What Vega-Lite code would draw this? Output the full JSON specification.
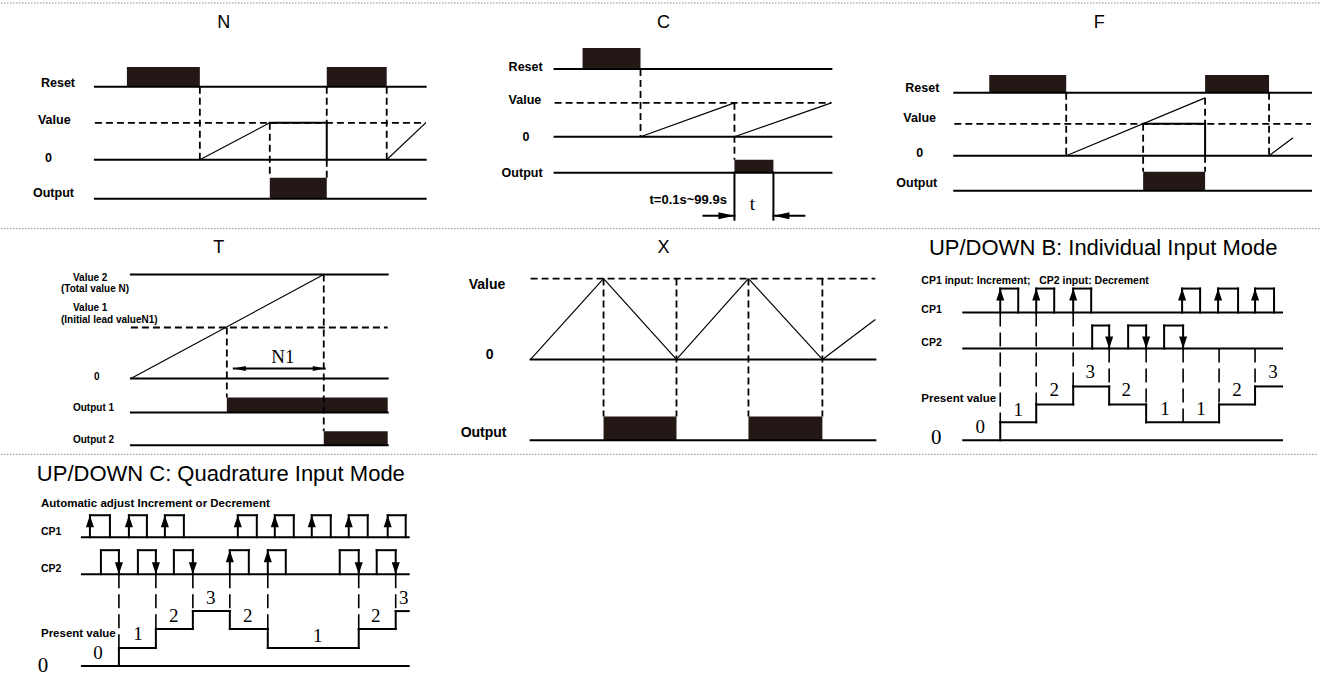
{
  "$schema": "https://vega.github.io/schema/vega-lite/v6.json",
  "description": "Counter mode timing diagrams",
  "width": 1331,
  "height": 676,
  "padding": 0,
  "autosize": {"type": "fit", "contains": "padding"},
  "background": "white",
  "config": {"view": {"stroke": null}},
  "datasets": {
    "segs": [
      {"x": 0, "y": 3, "x2": 1320, "y2": 3, "kind": "sep"},
      {"x": 0, "y": 229, "x2": 1320, "y2": 229, "kind": "sep"},
      {"x": 0, "y": 455, "x2": 1318, "y2": 455, "kind": "sep"},

      {"x": 94, "y": 87, "x2": 425, "y2": 87, "kind": "base"},
      {"x": 94, "y": 160, "x2": 425, "y2": 160, "kind": "base"},
      {"x": 94, "y": 199, "x2": 425, "y2": 199, "kind": "base"},
      {"x": 269, "y": 123, "x2": 326, "y2": 123, "kind": "base"},
      {"x": 326, "y": 123, "x2": 326, "y2": 160, "kind": "base"},
      {"x": 94, "y": 123, "x2": 425, "y2": 123, "kind": "dash"},
      {"x": 199, "y": 87, "x2": 199, "y2": 160, "kind": "dash"},
      {"x": 269, "y": 123, "x2": 269, "y2": 178, "kind": "dash"},
      {"x": 326, "y": 87, "x2": 326, "y2": 123, "kind": "dash"},
      {"x": 326, "y": 160, "x2": 326, "y2": 178, "kind": "dash"},
      {"x": 386, "y": 87, "x2": 386, "y2": 160, "kind": "dash"},
      {"x": 199, "y": 160, "x2": 269, "y2": 123, "kind": "thin"},
      {"x": 386, "y": 160, "x2": 425, "y2": 123, "kind": "thin"},

      {"x": 554, "y": 69, "x2": 831, "y2": 69, "kind": "base"},
      {"x": 554, "y": 137, "x2": 831, "y2": 137, "kind": "base"},
      {"x": 554, "y": 173, "x2": 831, "y2": 173, "kind": "base"},
      {"x": 734, "y": 173, "x2": 734, "y2": 220, "kind": "base"},
      {"x": 773, "y": 173, "x2": 773, "y2": 220, "kind": "base"},
      {"x": 703, "y": 216, "x2": 734, "y2": 216, "kind": "base"},
      {"x": 773, "y": 216, "x2": 804, "y2": 216, "kind": "base"},
      {"x": 554, "y": 103, "x2": 831, "y2": 103, "kind": "dash"},
      {"x": 640, "y": 69, "x2": 640, "y2": 137, "kind": "dash"},
      {"x": 734, "y": 103, "x2": 734, "y2": 160, "kind": "dash"},
      {"x": 640, "y": 137, "x2": 734, "y2": 103, "kind": "thin"},
      {"x": 734, "y": 137, "x2": 831, "y2": 103, "kind": "thin"},

      {"x": 954, "y": 93, "x2": 1311, "y2": 93, "kind": "base"},
      {"x": 954, "y": 156, "x2": 1311, "y2": 156, "kind": "base"},
      {"x": 954, "y": 191, "x2": 1311, "y2": 191, "kind": "base"},
      {"x": 1143, "y": 124, "x2": 1205, "y2": 124, "kind": "base"},
      {"x": 1205, "y": 124, "x2": 1205, "y2": 156, "kind": "base"},
      {"x": 954, "y": 124, "x2": 1311, "y2": 124, "kind": "dash"},
      {"x": 1066, "y": 93, "x2": 1066, "y2": 156, "kind": "dash"},
      {"x": 1143, "y": 124, "x2": 1143, "y2": 172, "kind": "dash"},
      {"x": 1205, "y": 98, "x2": 1205, "y2": 124, "kind": "dash"},
      {"x": 1205, "y": 156, "x2": 1205, "y2": 172, "kind": "dash"},
      {"x": 1269, "y": 93, "x2": 1269, "y2": 156, "kind": "dash"},
      {"x": 1066, "y": 156, "x2": 1205, "y2": 98, "kind": "thin"},
      {"x": 1269, "y": 156, "x2": 1293, "y2": 138, "kind": "thin"},

      {"x": 130, "y": 275, "x2": 387, "y2": 275, "kind": "base"},
      {"x": 130, "y": 379, "x2": 387, "y2": 379, "kind": "base"},
      {"x": 130, "y": 413, "x2": 387, "y2": 413, "kind": "base"},
      {"x": 130, "y": 446, "x2": 387, "y2": 446, "kind": "base"},
      {"x": 233, "y": 369, "x2": 324, "y2": 369, "kind": "base"},
      {"x": 130, "y": 379, "x2": 323, "y2": 275, "kind": "thin"},
      {"x": 130, "y": 328, "x2": 387, "y2": 328, "kind": "dash"},
      {"x": 226, "y": 328, "x2": 226, "y2": 398, "kind": "dash"},
      {"x": 323, "y": 275, "x2": 323, "y2": 432, "kind": "dash"},

      {"x": 530, "y": 360, "x2": 875, "y2": 360, "kind": "base"},
      {"x": 530, "y": 441, "x2": 875, "y2": 441, "kind": "base"},
      {"x": 530, "y": 279, "x2": 875, "y2": 279, "kind": "dash"},
      {"x": 603, "y": 279, "x2": 603, "y2": 417, "kind": "dash"},
      {"x": 676, "y": 279, "x2": 676, "y2": 417, "kind": "dash"},
      {"x": 748, "y": 279, "x2": 748, "y2": 417, "kind": "dash"},
      {"x": 822, "y": 279, "x2": 822, "y2": 417, "kind": "dash"},
      {"x": 530, "y": 360, "x2": 603, "y2": 279, "kind": "thin"},
      {"x": 603, "y": 279, "x2": 676, "y2": 360, "kind": "thin"},
      {"x": 676, "y": 360, "x2": 748, "y2": 279, "kind": "thin"},
      {"x": 748, "y": 279, "x2": 822, "y2": 360, "kind": "thin"},
      {"x": 822, "y": 360, "x2": 875, "y2": 320, "kind": "thin"},

      {"x": 963, "y": 313, "x2": 1282, "y2": 313, "kind": "base"},
      {"x": 963, "y": 349, "x2": 1282, "y2": 349, "kind": "base"},
      {"x": 963, "y": 441, "x2": 1282, "y2": 441, "kind": "base"},
      {"x": 1000, "y": 313, "x2": 1000, "y2": 289, "kind": "base"},
      {"x": 1000, "y": 289, "x2": 1018, "y2": 289, "kind": "base"},
      {"x": 1018, "y": 289, "x2": 1018, "y2": 313, "kind": "base"},
      {"x": 1036, "y": 313, "x2": 1036, "y2": 289, "kind": "base"},
      {"x": 1036, "y": 289, "x2": 1054, "y2": 289, "kind": "base"},
      {"x": 1054, "y": 289, "x2": 1054, "y2": 313, "kind": "base"},
      {"x": 1073, "y": 313, "x2": 1073, "y2": 289, "kind": "base"},
      {"x": 1073, "y": 289, "x2": 1091, "y2": 289, "kind": "base"},
      {"x": 1091, "y": 289, "x2": 1091, "y2": 313, "kind": "base"},
      {"x": 1182, "y": 313, "x2": 1182, "y2": 289, "kind": "base"},
      {"x": 1182, "y": 289, "x2": 1200, "y2": 289, "kind": "base"},
      {"x": 1200, "y": 289, "x2": 1200, "y2": 313, "kind": "base"},
      {"x": 1218, "y": 313, "x2": 1218, "y2": 289, "kind": "base"},
      {"x": 1218, "y": 289, "x2": 1238, "y2": 289, "kind": "base"},
      {"x": 1238, "y": 289, "x2": 1238, "y2": 313, "kind": "base"},
      {"x": 1255, "y": 313, "x2": 1255, "y2": 289, "kind": "base"},
      {"x": 1255, "y": 289, "x2": 1274, "y2": 289, "kind": "base"},
      {"x": 1274, "y": 289, "x2": 1274, "y2": 313, "kind": "base"},
      {"x": 1092, "y": 349, "x2": 1092, "y2": 326, "kind": "base"},
      {"x": 1092, "y": 326, "x2": 1109, "y2": 326, "kind": "base"},
      {"x": 1109, "y": 326, "x2": 1109, "y2": 349, "kind": "base"},
      {"x": 1128, "y": 349, "x2": 1128, "y2": 326, "kind": "base"},
      {"x": 1128, "y": 326, "x2": 1146, "y2": 326, "kind": "base"},
      {"x": 1146, "y": 326, "x2": 1146, "y2": 349, "kind": "base"},
      {"x": 1164, "y": 349, "x2": 1164, "y2": 326, "kind": "base"},
      {"x": 1164, "y": 326, "x2": 1183, "y2": 326, "kind": "base"},
      {"x": 1183, "y": 326, "x2": 1183, "y2": 349, "kind": "base"},
      {"x": 1000, "y": 441, "x2": 1000, "y2": 423, "kind": "base"},
      {"x": 1000, "y": 423, "x2": 1036, "y2": 423, "kind": "base"},
      {"x": 1036, "y": 423, "x2": 1036, "y2": 405, "kind": "base"},
      {"x": 1036, "y": 405, "x2": 1073, "y2": 405, "kind": "base"},
      {"x": 1073, "y": 405, "x2": 1073, "y2": 387, "kind": "base"},
      {"x": 1073, "y": 387, "x2": 1109, "y2": 387, "kind": "base"},
      {"x": 1109, "y": 387, "x2": 1109, "y2": 405, "kind": "base"},
      {"x": 1109, "y": 405, "x2": 1146, "y2": 405, "kind": "base"},
      {"x": 1146, "y": 405, "x2": 1146, "y2": 423, "kind": "base"},
      {"x": 1146, "y": 423, "x2": 1219, "y2": 423, "kind": "base"},
      {"x": 1219, "y": 423, "x2": 1219, "y2": 405, "kind": "base"},
      {"x": 1219, "y": 405, "x2": 1255, "y2": 405, "kind": "base"},
      {"x": 1255, "y": 405, "x2": 1255, "y2": 387, "kind": "base"},
      {"x": 1255, "y": 387, "x2": 1282, "y2": 387, "kind": "base"},
      {"x": 1000, "y": 313, "x2": 1000, "y2": 423, "kind": "ldash"},
      {"x": 1036, "y": 313, "x2": 1036, "y2": 405, "kind": "ldash"},
      {"x": 1073, "y": 313, "x2": 1073, "y2": 387, "kind": "ldash"},
      {"x": 1109, "y": 349, "x2": 1109, "y2": 387, "kind": "ldash"},
      {"x": 1146, "y": 349, "x2": 1146, "y2": 405, "kind": "ldash"},
      {"x": 1183, "y": 349, "x2": 1183, "y2": 423, "kind": "ldash"},
      {"x": 1219, "y": 349, "x2": 1219, "y2": 405, "kind": "ldash"},
      {"x": 1255, "y": 349, "x2": 1255, "y2": 387, "kind": "ldash"},

      {"x": 81, "y": 538, "x2": 408, "y2": 538, "kind": "base"},
      {"x": 81, "y": 575, "x2": 408, "y2": 575, "kind": "base"},
      {"x": 81, "y": 667, "x2": 408, "y2": 667, "kind": "base"},
      {"x": 89, "y": 538, "x2": 89, "y2": 516, "kind": "base"},
      {"x": 89, "y": 516, "x2": 109, "y2": 516, "kind": "base"},
      {"x": 109, "y": 516, "x2": 109, "y2": 538, "kind": "base"},
      {"x": 128, "y": 538, "x2": 128, "y2": 516, "kind": "base"},
      {"x": 128, "y": 516, "x2": 146, "y2": 516, "kind": "base"},
      {"x": 146, "y": 516, "x2": 146, "y2": 538, "kind": "base"},
      {"x": 164, "y": 538, "x2": 164, "y2": 516, "kind": "base"},
      {"x": 164, "y": 516, "x2": 183, "y2": 516, "kind": "base"},
      {"x": 183, "y": 516, "x2": 183, "y2": 538, "kind": "base"},
      {"x": 237, "y": 538, "x2": 237, "y2": 516, "kind": "base"},
      {"x": 237, "y": 516, "x2": 256, "y2": 516, "kind": "base"},
      {"x": 256, "y": 516, "x2": 256, "y2": 538, "kind": "base"},
      {"x": 274, "y": 538, "x2": 274, "y2": 516, "kind": "base"},
      {"x": 274, "y": 516, "x2": 293, "y2": 516, "kind": "base"},
      {"x": 293, "y": 516, "x2": 293, "y2": 538, "kind": "base"},
      {"x": 311, "y": 538, "x2": 311, "y2": 516, "kind": "base"},
      {"x": 311, "y": 516, "x2": 330, "y2": 516, "kind": "base"},
      {"x": 330, "y": 516, "x2": 330, "y2": 538, "kind": "base"},
      {"x": 348, "y": 538, "x2": 348, "y2": 516, "kind": "base"},
      {"x": 348, "y": 516, "x2": 367, "y2": 516, "kind": "base"},
      {"x": 367, "y": 516, "x2": 367, "y2": 538, "kind": "base"},
      {"x": 387, "y": 538, "x2": 387, "y2": 516, "kind": "base"},
      {"x": 387, "y": 516, "x2": 405, "y2": 516, "kind": "base"},
      {"x": 405, "y": 516, "x2": 405, "y2": 538, "kind": "base"},
      {"x": 100, "y": 575, "x2": 100, "y2": 551, "kind": "base"},
      {"x": 100, "y": 551, "x2": 118, "y2": 551, "kind": "base"},
      {"x": 118, "y": 551, "x2": 118, "y2": 575, "kind": "base"},
      {"x": 137, "y": 575, "x2": 137, "y2": 551, "kind": "base"},
      {"x": 137, "y": 551, "x2": 155, "y2": 551, "kind": "base"},
      {"x": 155, "y": 551, "x2": 155, "y2": 575, "kind": "base"},
      {"x": 173, "y": 575, "x2": 173, "y2": 551, "kind": "base"},
      {"x": 173, "y": 551, "x2": 192, "y2": 551, "kind": "base"},
      {"x": 192, "y": 551, "x2": 192, "y2": 575, "kind": "base"},
      {"x": 229, "y": 575, "x2": 229, "y2": 551, "kind": "base"},
      {"x": 229, "y": 551, "x2": 248, "y2": 551, "kind": "base"},
      {"x": 248, "y": 551, "x2": 248, "y2": 575, "kind": "base"},
      {"x": 267, "y": 575, "x2": 267, "y2": 551, "kind": "base"},
      {"x": 267, "y": 551, "x2": 285, "y2": 551, "kind": "base"},
      {"x": 285, "y": 551, "x2": 285, "y2": 575, "kind": "base"},
      {"x": 339, "y": 575, "x2": 339, "y2": 551, "kind": "base"},
      {"x": 339, "y": 551, "x2": 358, "y2": 551, "kind": "base"},
      {"x": 358, "y": 551, "x2": 358, "y2": 575, "kind": "base"},
      {"x": 376, "y": 575, "x2": 376, "y2": 551, "kind": "base"},
      {"x": 376, "y": 551, "x2": 395, "y2": 551, "kind": "base"},
      {"x": 395, "y": 551, "x2": 395, "y2": 575, "kind": "base"},
      {"x": 118, "y": 667, "x2": 118, "y2": 649, "kind": "base"},
      {"x": 118, "y": 649, "x2": 155, "y2": 649, "kind": "base"},
      {"x": 155, "y": 649, "x2": 155, "y2": 630, "kind": "base"},
      {"x": 155, "y": 630, "x2": 192, "y2": 630, "kind": "base"},
      {"x": 192, "y": 630, "x2": 192, "y2": 612, "kind": "base"},
      {"x": 192, "y": 612, "x2": 229, "y2": 612, "kind": "base"},
      {"x": 229, "y": 612, "x2": 229, "y2": 630, "kind": "base"},
      {"x": 229, "y": 630, "x2": 267, "y2": 630, "kind": "base"},
      {"x": 267, "y": 630, "x2": 267, "y2": 649, "kind": "base"},
      {"x": 267, "y": 649, "x2": 358, "y2": 649, "kind": "base"},
      {"x": 358, "y": 649, "x2": 358, "y2": 630, "kind": "base"},
      {"x": 358, "y": 630, "x2": 395, "y2": 630, "kind": "base"},
      {"x": 395, "y": 630, "x2": 395, "y2": 612, "kind": "base"},
      {"x": 395, "y": 612, "x2": 408, "y2": 612, "kind": "base"},
      {"x": 118, "y": 575, "x2": 118, "y2": 649, "kind": "ldash"},
      {"x": 155, "y": 575, "x2": 155, "y2": 630, "kind": "ldash"},
      {"x": 192, "y": 575, "x2": 192, "y2": 612, "kind": "ldash"},
      {"x": 229, "y": 575, "x2": 229, "y2": 612, "kind": "ldash"},
      {"x": 267, "y": 575, "x2": 267, "y2": 630, "kind": "ldash"},
      {"x": 358, "y": 575, "x2": 358, "y2": 630, "kind": "ldash"},
      {"x": 395, "y": 575, "x2": 395, "y2": 612, "kind": "ldash"}
    ],
    "blocks": [
      {"x": 126, "y": 67, "x2": 199, "y2": 87},
      {"x": 326, "y": 67, "x2": 386, "y2": 87},
      {"x": 269, "y": 178, "x2": 326, "y2": 199},
      {"x": 582, "y": 48, "x2": 640, "y2": 69},
      {"x": 734, "y": 160, "x2": 773, "y2": 173},
      {"x": 989, "y": 75, "x2": 1066, "y2": 93},
      {"x": 1205, "y": 75, "x2": 1269, "y2": 93},
      {"x": 1143, "y": 172, "x2": 1205, "y2": 191},
      {"x": 226, "y": 398, "x2": 387, "y2": 413},
      {"x": 323, "y": 432, "x2": 387, "y2": 446},
      {"x": 603, "y": 417, "x2": 676, "y2": 441},
      {"x": 748, "y": 417, "x2": 822, "y2": 441}
    ],
    "heads": [
      {"x": 734, "y": 216, "dir": "lright"},
      {"x": 773, "y": 216, "dir": "lleft"},
      {"x": 233, "y": 369, "dir": "left"},
      {"x": 324, "y": 369, "dir": "right"},
      {"x": 1000, "y": 289, "dir": "up"},
      {"x": 1036, "y": 289, "dir": "up"},
      {"x": 1073, "y": 289, "dir": "up"},
      {"x": 1182, "y": 289, "dir": "up"},
      {"x": 1218, "y": 289, "dir": "up"},
      {"x": 1255, "y": 289, "dir": "up"},
      {"x": 1109, "y": 349, "dir": "down"},
      {"x": 1146, "y": 349, "dir": "down"},
      {"x": 1183, "y": 349, "dir": "down"},
      {"x": 89, "y": 516, "dir": "up"},
      {"x": 128, "y": 516, "dir": "up"},
      {"x": 164, "y": 516, "dir": "up"},
      {"x": 237, "y": 516, "dir": "up"},
      {"x": 274, "y": 516, "dir": "up"},
      {"x": 311, "y": 516, "dir": "up"},
      {"x": 348, "y": 516, "dir": "up"},
      {"x": 387, "y": 516, "dir": "up"},
      {"x": 229, "y": 551, "dir": "up"},
      {"x": 267, "y": 551, "dir": "up"},
      {"x": 118, "y": 575, "dir": "down"},
      {"x": 155, "y": 575, "dir": "down"},
      {"x": 192, "y": 575, "dir": "down"},
      {"x": 358, "y": 575, "dir": "down"},
      {"x": 395, "y": 575, "dir": "down"}
    ],
    "texts": [
      {"x": 223, "y": 23, "text": "N", "role": "title"},
      {"x": 663, "y": 23, "text": "C", "role": "title"},
      {"x": 1099, "y": 23, "text": "F", "role": "title"},
      {"x": 218, "y": 248, "text": "T", "role": "title"},
      {"x": 663, "y": 248, "text": "X", "role": "title"},
      {"x": 1103, "y": 248, "text": "UP/DOWN B: Individual Input Mode", "role": "bigtitle"},
      {"x": 220, "y": 475, "text": "UP/DOWN C: Quadrature Input Mode", "role": "bigtitle"},

      {"x": 40, "y": 83, "text": "Reset", "role": "lab"},
      {"x": 37, "y": 120, "text": "Value", "role": "lab"},
      {"x": 44, "y": 158, "text": "0", "role": "lab"},
      {"x": 32, "y": 193, "text": "Output", "role": "lab"},
      {"x": 508, "y": 67, "text": "Reset", "role": "lab"},
      {"x": 508, "y": 100, "text": "Value", "role": "lab"},
      {"x": 522, "y": 137, "text": "0", "role": "lab"},
      {"x": 501, "y": 173, "text": "Output", "role": "lab"},
      {"x": 905, "y": 88, "text": "Reset", "role": "lab"},
      {"x": 903, "y": 118, "text": "Value", "role": "lab"},
      {"x": 916, "y": 153, "text": "0", "role": "lab"},
      {"x": 896, "y": 183, "text": "Output", "role": "lab"},
      {"x": 649, "y": 200, "text": "t=0.1s~99.9s", "role": "note"},

      {"x": 468, "y": 285, "text": "Value", "role": "labx"},
      {"x": 485, "y": 356, "text": "0", "role": "labx"},
      {"x": 460, "y": 434, "text": "Output", "role": "labx"},

      {"x": 72, "y": 278, "text": "Value 2", "role": "tiny"},
      {"x": 60, "y": 289, "text": "(Total value N)", "role": "tiny"},
      {"x": 72, "y": 308, "text": "Value 1", "role": "tiny"},
      {"x": 60, "y": 320, "text": "(Initial lead valueN1)", "role": "tiny"},
      {"x": 93, "y": 378, "text": "0", "role": "tiny"},
      {"x": 72, "y": 409, "text": "Output 1", "role": "tiny"},
      {"x": 72, "y": 441, "text": "Output 2", "role": "tiny"},

      {"x": 921, "y": 281, "text": "CP1 input: Increment;\u00a0\u00a0 CP2 input: Decrement", "role": "sm"},
      {"x": 921, "y": 310, "text": "CP1", "role": "sm"},
      {"x": 921, "y": 344, "text": "CP2", "role": "sm"},
      {"x": 921, "y": 400, "text": "Present value", "role": "md"},
      {"x": 40, "y": 505, "text": "Automatic adjust Increment or Decrement", "role": "md"},
      {"x": 40, "y": 533, "text": "CP1", "role": "sm"},
      {"x": 40, "y": 570, "text": "CP2", "role": "sm"},
      {"x": 40, "y": 635, "text": "Present value", "role": "md"},

      {"x": 282, "y": 358, "text": "N1", "role": "num"},
      {"x": 752, "y": 204, "text": "t", "role": "num"},
      {"x": 980, "y": 428, "text": "0", "role": "num"},
      {"x": 1018, "y": 411, "text": "1", "role": "num"},
      {"x": 1054, "y": 391, "text": "2", "role": "num"},
      {"x": 1090, "y": 373, "text": "3", "role": "num"},
      {"x": 1126, "y": 391, "text": "2", "role": "num"},
      {"x": 1165, "y": 410, "text": "1", "role": "num"},
      {"x": 1201, "y": 410, "text": "1", "role": "num"},
      {"x": 1237, "y": 391, "text": "2", "role": "num"},
      {"x": 1273, "y": 373, "text": "3", "role": "num"},
      {"x": 97, "y": 654, "text": "0", "role": "num"},
      {"x": 137, "y": 635, "text": "1", "role": "num"},
      {"x": 173, "y": 617, "text": "2", "role": "num"},
      {"x": 210, "y": 599, "text": "3", "role": "num"},
      {"x": 247, "y": 617, "text": "2", "role": "num"},
      {"x": 317, "y": 637, "text": "1", "role": "num"},
      {"x": 375, "y": 617, "text": "2", "role": "num"},
      {"x": 403, "y": 599, "text": "3", "role": "num"},
      {"x": 936, "y": 439, "text": "0", "role": "bignum"},
      {"x": 42, "y": 667, "text": "0", "role": "bignum"}
    ]
  },
  "encoding": {
    "x": {"field": "x", "type": "quantitative", "scale": {"domain": [0, 1331], "nice": false, "zero": false}, "axis": null},
    "y": {"field": "y", "type": "quantitative", "scale": {"domain": [0, 676], "nice": false, "zero": false, "reverse": true}, "axis": null}
  },
  "layer": [
    {
      "data": {"name": "blocks"},
      "mark": {"type": "rect", "color": "#231815"},
      "encoding": {"x2": {"field": "x2"}, "y2": {"field": "y2"}}
    },
    {
      "data": {"name": "segs"},
      "transform": [{"filter": "datum.kind === 'sep'"}],
      "mark": {"type": "rule", "color": "#8a8a8a", "strokeWidth": 1, "strokeDash": [1.5, 1.5]},
      "encoding": {"x2": {"field": "x2"}, "y2": {"field": "y2"}}
    },
    {
      "data": {"name": "segs"},
      "transform": [{"filter": "datum.kind === 'base'"}],
      "mark": {"type": "rule", "color": "#000000", "strokeWidth": 2, "strokeCap": "square"},
      "encoding": {"x2": {"field": "x2"}, "y2": {"field": "y2"}}
    },
    {
      "data": {"name": "segs"},
      "transform": [{"filter": "datum.kind === 'thin'"}],
      "mark": {"type": "rule", "color": "#000000", "strokeWidth": 1.2},
      "encoding": {"x2": {"field": "x2"}, "y2": {"field": "y2"}}
    },
    {
      "data": {"name": "segs"},
      "transform": [{"filter": "datum.kind === 'dash'"}],
      "mark": {"type": "rule", "color": "#000000", "strokeWidth": 1.8, "strokeDash": [7, 4]},
      "encoding": {"x2": {"field": "x2"}, "y2": {"field": "y2"}}
    },
    {
      "data": {"name": "segs"},
      "transform": [{"filter": "datum.kind === 'ldash'"}],
      "mark": {"type": "rule", "color": "#000000", "strokeWidth": 1.6, "strokeDash": [14, 6]},
      "encoding": {"x2": {"field": "x2"}, "y2": {"field": "y2"}}
    },
    {
      "data": {"name": "heads"},
      "mark": {"type": "point", "filled": true, "opacity": 1, "size": 144, "color": "#000000", "strokeWidth": 0},
      "encoding": {
        "shape": {
          "field": "dir",
          "type": "nominal",
          "scale": {
            "domain": ["up", "down", "left", "right", "lleft", "lright"],
            "range": [
              "M0,0L0.67,2L-0.67,2Z",
              "M0,0L0.67,-2L-0.67,-2Z",
              "M0,0L2,0.42L2,-0.42Z",
              "M0,0L-2,0.42L-2,-0.42Z",
              "M0,0L2.67,0.58L2.67,-0.58Z",
              "M0,0L-2.67,0.58L-2.67,-0.58Z"
            ]
          },
          "legend": null
        }
      }
    },
    {
      "data": {"name": "texts"},
      "transform": [{"filter": "datum.role === 'title'"}],
      "mark": {"type": "text", "font": "Liberation Sans", "fontSize": 18, "align": "center", "baseline": "middle", "color": "#000000"},
      "encoding": {"text": {"field": "text"}}
    },
    {
      "data": {"name": "texts"},
      "transform": [{"filter": "datum.role === 'bigtitle'"}],
      "mark": {"type": "text", "font": "Liberation Sans", "fontSize": 22, "align": "center", "baseline": "middle", "color": "#000000"},
      "encoding": {"text": {"field": "text"}}
    },
    {
      "data": {"name": "texts"},
      "transform": [{"filter": "datum.role === 'lab'"}],
      "mark": {"type": "text", "font": "Liberation Sans", "fontWeight": "bold", "fontSize": 12.5, "align": "left", "baseline": "middle", "color": "#000000"},
      "encoding": {"text": {"field": "text"}}
    },
    {
      "data": {"name": "texts"},
      "transform": [{"filter": "datum.role === 'labx'"}],
      "mark": {"type": "text", "font": "Liberation Sans", "fontWeight": "bold", "fontSize": 14, "align": "left", "baseline": "middle", "color": "#000000"},
      "encoding": {"text": {"field": "text"}}
    },
    {
      "data": {"name": "texts"},
      "transform": [{"filter": "datum.role === 'note'"}],
      "mark": {"type": "text", "font": "Liberation Sans", "fontWeight": "bold", "fontSize": 13, "align": "left", "baseline": "middle", "color": "#000000"},
      "encoding": {"text": {"field": "text"}}
    },
    {
      "data": {"name": "texts"},
      "transform": [{"filter": "datum.role === 'tiny'"}],
      "mark": {"type": "text", "font": "Liberation Sans", "fontWeight": "bold", "fontSize": 10, "align": "left", "baseline": "middle", "color": "#000000"},
      "encoding": {"text": {"field": "text"}}
    },
    {
      "data": {"name": "texts"},
      "transform": [{"filter": "datum.role === 'sm'"}],
      "mark": {"type": "text", "font": "Liberation Sans", "fontWeight": "bold", "fontSize": 10.5, "align": "left", "baseline": "middle", "color": "#000000"},
      "encoding": {"text": {"field": "text"}}
    },
    {
      "data": {"name": "texts"},
      "transform": [{"filter": "datum.role === 'md'"}],
      "mark": {"type": "text", "font": "Liberation Sans", "fontWeight": "bold", "fontSize": 11.5, "align": "left", "baseline": "middle", "color": "#000000"},
      "encoding": {"text": {"field": "text"}}
    },
    {
      "data": {"name": "texts"},
      "transform": [{"filter": "datum.role === 'num'"}],
      "mark": {"type": "text", "font": "Liberation Serif", "fontSize": 19, "align": "center", "baseline": "middle", "color": "#000000"},
      "encoding": {"text": {"field": "text"}}
    },
    {
      "data": {"name": "texts"},
      "transform": [{"filter": "datum.role === 'bignum'"}],
      "mark": {"type": "text", "font": "Liberation Serif", "fontSize": 21, "align": "center", "baseline": "middle", "color": "#000000"},
      "encoding": {"text": {"field": "text"}}
    }
  ]
}
